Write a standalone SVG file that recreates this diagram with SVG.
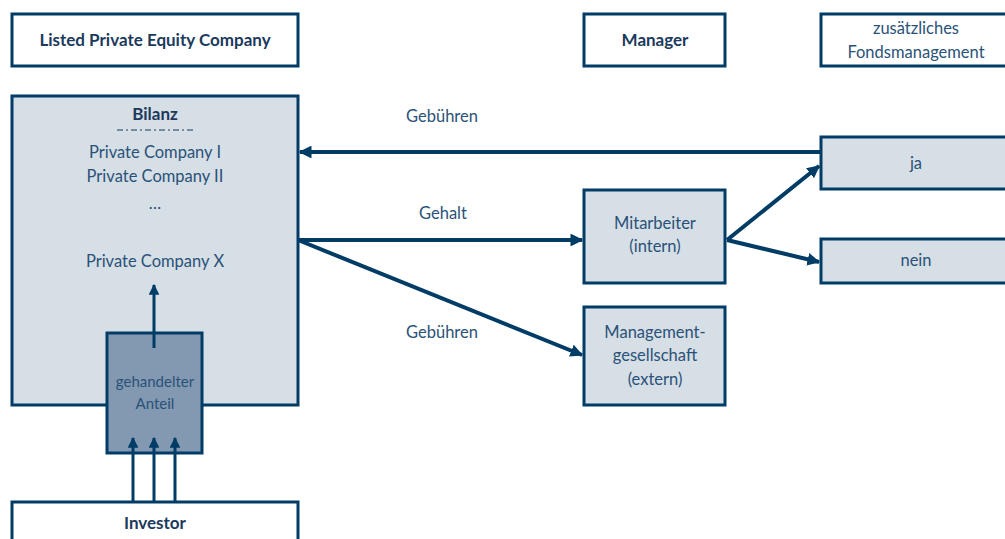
<svg xmlns="http://www.w3.org/2000/svg" width="1005" height="539" viewBox="0 0 1005 539">
<style>
.box{stroke:#003c66;stroke-width:3}
.w{fill:#ffffff}
.l{fill:#d6dee6}
.d{fill:#8398b1}
.t{font-family:Lato,"Noto Sans",sans-serif;font-size:16.5px;fill:#2a5278;text-anchor:middle}
.s{font-size:15px}
.b{font-family:Lato,"Noto Sans",sans-serif;font-size:17px;font-weight:bold;fill:#1b3a5c;text-anchor:middle}
.c{stroke:#003c66;stroke-width:4;fill:none}
.c2{stroke:#003c66;stroke-width:3;fill:none}
</style>
<defs>
<marker id="ah" viewBox="0 0 10 10" refX="9" refY="5" markerWidth="3.2" markerHeight="3.2" orient="auto" markerUnits="strokeWidth">
<path d="M0,0 L10,5 L0,10 z" fill="#003c66"/>
</marker>
<marker id="ah2" viewBox="0 0 10 10" refX="9" refY="5" markerWidth="3.6" markerHeight="3.6" orient="auto" markerUnits="strokeWidth">
<path d="M0,0 L10,5 L0,10 z" fill="#003c66"/>
</marker>
</defs>
<g id="lpec"><rect class="box w" x="12" y="14" width="286" height="52"/><text class="b" x="155" y="46">Listed Private Equity Company</text></g>
<g id="manager"><rect class="box w" x="584" y="14" width="141" height="52"/><text class="b" x="655" y="46">Manager</text></g>
<g id="fonds"><rect class="box w" x="821" y="14" width="190" height="52"/><text class="t" x="916" y="34">zusätzliches</text><text class="t" x="916" y="58">Fondsmanagement</text></g>
<g id="bilanz"><rect class="box l" x="12" y="96" width="286" height="309"/>
<text class="b" x="155" y="120">Bilanz</text>
<line x1="117" y1="130" x2="196" y2="130" stroke="#1b3a5c" stroke-width="1.2" stroke-dasharray="6,3,2,3"/>
<text class="t" x="155" y="158">Private Company I</text>
<text class="t" x="155" y="182">Private Company II</text>
<text class="t" x="155" y="209">…</text>
<text class="t" x="155" y="267">Private Company X</text></g>
<g id="investor"><rect class="box w" x="12" y="502" width="286" height="50"/><text class="b" x="155" y="529">Investor</text></g>
<g id="anteil"><rect class="box d" x="107" y="333" width="95" height="120"/><text class="t s" x="155" y="387">gehandelter</text><text class="t s" x="155" y="409">Anteil</text></g>
<g id="mitarbeiter"><rect class="box l" x="584" y="190" width="141" height="93"/><text class="t" x="655" y="229">Mitarbeiter</text><text class="t" x="655" y="252">(intern)</text></g>
<g id="mgmt"><rect class="box l" x="584" y="307" width="141" height="98"/><text class="t" x="655" y="338">Management-</text><text class="t" x="655" y="361">gesellschaft</text><text class="t" x="655" y="385">(extern)</text></g>
<g id="ja"><rect class="box l" x="821" y="137" width="190" height="52"/><text class="t" x="916" y="169">ja</text></g>
<g id="nein"><rect class="box l" x="821" y="239" width="190" height="44"/><text class="t" x="916" y="266">nein</text></g>
<g id="connectors">
<line class="c" x1="821" y1="152" x2="300" y2="152" marker-end="url(#ah)"/>
<line class="c" x1="298" y1="240" x2="582" y2="240" marker-end="url(#ah)"/>
<line class="c" x1="298" y1="240" x2="582" y2="355" marker-end="url(#ah)"/>
<line class="c" x1="727" y1="240" x2="819" y2="166" marker-end="url(#ah)"/>
<line class="c" x1="727" y1="240" x2="819" y2="262" marker-end="url(#ah)"/>
<line class="c2" x1="154" y1="348" x2="154" y2="285" marker-end="url(#ah2)"/>
<line class="c2" x1="133" y1="502" x2="133" y2="438" marker-end="url(#ah2)"/>
<line class="c2" x1="154" y1="502" x2="154" y2="438" marker-end="url(#ah2)"/>
<line class="c2" x1="175" y1="502" x2="175" y2="438" marker-end="url(#ah2)"/>
<text class="t" x="442" y="122">Gebühren</text>
<text class="t" x="443" y="219">Gehalt</text>
<text class="t" x="442" y="338">Gebühren</text>
</g>
</svg>
